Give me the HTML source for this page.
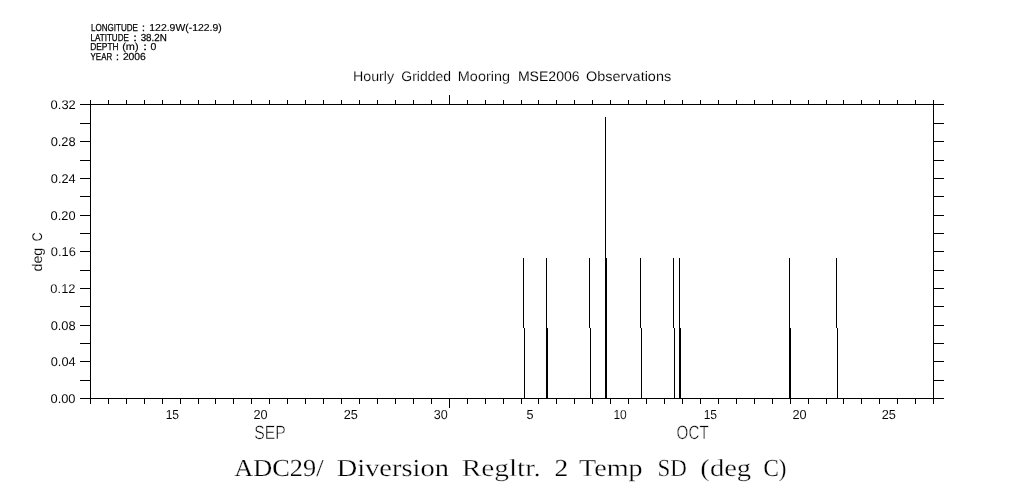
<!DOCTYPE html>
<html lang="en">
<head>
<meta charset="utf-8">
<title>ADC29/ Diversion Regltr. 2 Temp SD (deg C)</title>
<style>
html,body{margin:0;padding:0;background:#fff;}
body{width:1009px;height:504px;overflow:hidden;}
svg{display:block;}
svg text{fill:#000;white-space:pre;text-rendering:geometricPrecision;}
</style>
</head>
<body>
<svg width="1009" height="504" viewBox="0 0 1009 504">
<rect x="0" y="0" width="1009" height="504" fill="#fff"/>
<g fill="#000" shape-rendering="crispEdges">
<rect x="90" y="104" width="854" height="1"/>
<rect x="80" y="398" width="864" height="1"/>
<rect x="90" y="100" width="1" height="304"/>
<rect x="933" y="100" width="1" height="304"/>
<rect x="80" y="104" width="11" height="1"/>
<rect x="933" y="104" width="11" height="1"/>
<rect x="80" y="123" width="11" height="1"/>
<rect x="933" y="123" width="11" height="1"/>
<rect x="80" y="141" width="11" height="1"/>
<rect x="933" y="141" width="11" height="1"/>
<rect x="80" y="160" width="11" height="1"/>
<rect x="933" y="160" width="11" height="1"/>
<rect x="80" y="178" width="11" height="1"/>
<rect x="933" y="178" width="11" height="1"/>
<rect x="80" y="196" width="11" height="1"/>
<rect x="933" y="196" width="11" height="1"/>
<rect x="80" y="215" width="11" height="1"/>
<rect x="933" y="215" width="11" height="1"/>
<rect x="80" y="233" width="11" height="1"/>
<rect x="933" y="233" width="11" height="1"/>
<rect x="80" y="251" width="11" height="1"/>
<rect x="933" y="251" width="11" height="1"/>
<rect x="80" y="270" width="11" height="1"/>
<rect x="933" y="270" width="11" height="1"/>
<rect x="80" y="288" width="11" height="1"/>
<rect x="933" y="288" width="11" height="1"/>
<rect x="80" y="306" width="11" height="1"/>
<rect x="933" y="306" width="11" height="1"/>
<rect x="80" y="325" width="11" height="1"/>
<rect x="933" y="325" width="11" height="1"/>
<rect x="80" y="343" width="11" height="1"/>
<rect x="933" y="343" width="11" height="1"/>
<rect x="80" y="361" width="11" height="1"/>
<rect x="933" y="361" width="11" height="1"/>
<rect x="80" y="380" width="11" height="1"/>
<rect x="933" y="380" width="11" height="1"/>
<rect x="80" y="398" width="11" height="1"/>
<rect x="933" y="398" width="11" height="1"/>
<rect x="90" y="100" width="1" height="5"/>
<rect x="90" y="398" width="1" height="6"/>
<rect x="108" y="100" width="1" height="5"/>
<rect x="108" y="398" width="1" height="6"/>
<rect x="126" y="100" width="1" height="5"/>
<rect x="126" y="398" width="1" height="6"/>
<rect x="144" y="100" width="1" height="5"/>
<rect x="144" y="398" width="1" height="6"/>
<rect x="162" y="100" width="1" height="5"/>
<rect x="162" y="398" width="1" height="6"/>
<rect x="180" y="100" width="1" height="5"/>
<rect x="180" y="398" width="1" height="6"/>
<rect x="198" y="100" width="1" height="5"/>
<rect x="198" y="398" width="1" height="6"/>
<rect x="215" y="100" width="1" height="5"/>
<rect x="215" y="398" width="1" height="6"/>
<rect x="233" y="100" width="1" height="5"/>
<rect x="233" y="398" width="1" height="6"/>
<rect x="251" y="100" width="1" height="5"/>
<rect x="251" y="398" width="1" height="6"/>
<rect x="269" y="100" width="1" height="5"/>
<rect x="269" y="398" width="1" height="6"/>
<rect x="287" y="100" width="1" height="5"/>
<rect x="287" y="398" width="1" height="6"/>
<rect x="305" y="100" width="1" height="5"/>
<rect x="305" y="398" width="1" height="6"/>
<rect x="323" y="100" width="1" height="5"/>
<rect x="323" y="398" width="1" height="6"/>
<rect x="341" y="100" width="1" height="5"/>
<rect x="341" y="398" width="1" height="6"/>
<rect x="359" y="100" width="1" height="5"/>
<rect x="359" y="398" width="1" height="6"/>
<rect x="377" y="100" width="1" height="5"/>
<rect x="377" y="398" width="1" height="6"/>
<rect x="395" y="100" width="1" height="5"/>
<rect x="395" y="398" width="1" height="6"/>
<rect x="413" y="100" width="1" height="5"/>
<rect x="413" y="398" width="1" height="6"/>
<rect x="431" y="100" width="1" height="5"/>
<rect x="431" y="398" width="1" height="6"/>
<rect x="449" y="95" width="1" height="10"/>
<rect x="449" y="398" width="1" height="10"/>
<rect x="467" y="100" width="1" height="5"/>
<rect x="467" y="398" width="1" height="6"/>
<rect x="485" y="100" width="1" height="5"/>
<rect x="485" y="398" width="1" height="6"/>
<rect x="503" y="100" width="1" height="5"/>
<rect x="503" y="398" width="1" height="6"/>
<rect x="521" y="100" width="1" height="5"/>
<rect x="521" y="398" width="1" height="6"/>
<rect x="538" y="100" width="1" height="5"/>
<rect x="538" y="398" width="1" height="6"/>
<rect x="556" y="100" width="1" height="5"/>
<rect x="556" y="398" width="1" height="6"/>
<rect x="574" y="100" width="1" height="5"/>
<rect x="574" y="398" width="1" height="6"/>
<rect x="592" y="100" width="1" height="5"/>
<rect x="592" y="398" width="1" height="6"/>
<rect x="610" y="100" width="1" height="5"/>
<rect x="610" y="398" width="1" height="6"/>
<rect x="628" y="100" width="1" height="5"/>
<rect x="628" y="398" width="1" height="6"/>
<rect x="646" y="100" width="1" height="5"/>
<rect x="646" y="398" width="1" height="6"/>
<rect x="664" y="100" width="1" height="5"/>
<rect x="664" y="398" width="1" height="6"/>
<rect x="682" y="100" width="1" height="5"/>
<rect x="682" y="398" width="1" height="6"/>
<rect x="700" y="100" width="1" height="5"/>
<rect x="700" y="398" width="1" height="6"/>
<rect x="718" y="100" width="1" height="5"/>
<rect x="718" y="398" width="1" height="6"/>
<rect x="736" y="100" width="1" height="5"/>
<rect x="736" y="398" width="1" height="6"/>
<rect x="754" y="100" width="1" height="5"/>
<rect x="754" y="398" width="1" height="6"/>
<rect x="772" y="100" width="1" height="5"/>
<rect x="772" y="398" width="1" height="6"/>
<rect x="790" y="100" width="1" height="5"/>
<rect x="790" y="398" width="1" height="6"/>
<rect x="808" y="100" width="1" height="5"/>
<rect x="808" y="398" width="1" height="6"/>
<rect x="826" y="100" width="1" height="5"/>
<rect x="826" y="398" width="1" height="6"/>
<rect x="843" y="100" width="1" height="5"/>
<rect x="843" y="398" width="1" height="6"/>
<rect x="861" y="100" width="1" height="5"/>
<rect x="861" y="398" width="1" height="6"/>
<rect x="879" y="100" width="1" height="5"/>
<rect x="879" y="398" width="1" height="6"/>
<rect x="897" y="100" width="1" height="5"/>
<rect x="897" y="398" width="1" height="6"/>
<rect x="915" y="100" width="1" height="5"/>
<rect x="915" y="398" width="1" height="6"/>
<rect x="933" y="100" width="1" height="5"/>
<rect x="933" y="398" width="1" height="6"/>
<rect x="523" y="258" width="1" height="70"/>
<rect x="524" y="328" width="1" height="71"/>
<rect x="546" y="258" width="1" height="70"/>
<rect x="546" y="328" width="1" height="71"/>
<rect x="547" y="328" width="1" height="71"/>
<rect x="589" y="258" width="1" height="70"/>
<rect x="590" y="328" width="1" height="71"/>
<rect x="640" y="258" width="1" height="70"/>
<rect x="641" y="328" width="1" height="71"/>
<rect x="673" y="258" width="1" height="70"/>
<rect x="674" y="328" width="1" height="71"/>
<rect x="679" y="258" width="1" height="70"/>
<rect x="679" y="328" width="1" height="71"/>
<rect x="680" y="328" width="1" height="71"/>
<rect x="789" y="258" width="1" height="70"/>
<rect x="789" y="328" width="1" height="71"/>
<rect x="790" y="328" width="1" height="71"/>
<rect x="836" y="258" width="1" height="70"/>
<rect x="837" y="328" width="1" height="71"/>
<rect x="605" y="117" width="1" height="282"/>
<rect x="606" y="258" width="1" height="141"/>
</g>
<g>
<text transform="translate(90.9 31) scale(0.7978 1)" font-size="10.1" font-family="'Liberation Sans', sans-serif" stroke="#000" stroke-width="0.25">LONGITUDE</text>
<text transform="translate(142.04 31) scale(1.0399 1)" font-size="10.1" font-family="'Liberation Sans', sans-serif" stroke="#000" stroke-width="0.35">:</text>
<text transform="translate(149.33 31) scale(1.0323 1)" font-size="10.1" font-family="'Liberation Sans', sans-serif" stroke="#000" stroke-width="0.15">122.9W(-122.9)</text>
<text transform="translate(90.46 41) scale(0.7990 1)" font-size="10.1" font-family="'Liberation Sans', sans-serif" stroke="#000" stroke-width="0.25">LATITUDE</text>
<text transform="translate(133.18 41) scale(1.3000 1)" font-size="10.1" font-family="'Liberation Sans', sans-serif" stroke="#000" stroke-width="0.35">:</text>
<text transform="translate(140.67 41) scale(0.9711 1)" font-size="10.1" font-family="'Liberation Sans', sans-serif" stroke="#000" stroke-width="0.25">38.2N</text>
<text transform="translate(90.25 50) scale(0.8288 1)" font-size="10.1" font-family="'Liberation Sans', sans-serif" stroke="#000" stroke-width="0.25">DEPTH</text>
<text transform="translate(122.22 50) scale(1.0801 1)" font-size="10.1" font-family="'Liberation Sans', sans-serif" stroke="#000" stroke-width="0.15">(m)</text>
<text transform="translate(143.18 50) scale(1.3000 1)" font-size="10.1" font-family="'Liberation Sans', sans-serif" stroke="#000" stroke-width="0.35">:</text>
<text transform="translate(150.59 50) scale(1.0356 1)" font-size="10.1" font-family="'Liberation Sans', sans-serif" stroke="#000" stroke-width="0.15">0</text>
<text transform="translate(90.59 60) scale(0.7832 1)" font-size="10.1" font-family="'Liberation Sans', sans-serif" stroke="#000" stroke-width="0.25">YEAR</text>
<text transform="translate(116.04 60) scale(1.0399 1)" font-size="10.1" font-family="'Liberation Sans', sans-serif" stroke="#000" stroke-width="0.35">:</text>
<text transform="translate(122.88 60) scale(1.0225 1)" font-size="10.1" font-family="'Liberation Sans', sans-serif" stroke="#000" stroke-width="0.19">2006</text>
<text transform="translate(352.91 81) scale(1.0331 1)" font-size="13.8" font-family="'Liberation Sans', sans-serif" stroke="#fff" stroke-width="0.17">Hourly</text>
<text transform="translate(401.35 81) scale(1.0103 1)" font-size="13.8" font-family="'Liberation Sans', sans-serif" stroke="#fff" stroke-width="0.13">Gridded</text>
<text transform="translate(457.85 81) scale(1.0453 1)" font-size="13.8" font-family="'Liberation Sans', sans-serif" stroke="#fff" stroke-width="0.17">Mooring</text>
<text transform="translate(517.88 81) scale(1.0193 1)" font-size="13.8" font-family="'Liberation Sans', sans-serif" stroke="#fff" stroke-width="0.09">MSE2006</text>
<text transform="translate(585.99 81) scale(1.0480 1)" font-size="13.8" font-family="'Liberation Sans', sans-serif" stroke="#fff" stroke-width="0.11">Observations</text>
<text transform="translate(50.61 109) scale(1.0177 1)" font-size="12.7" font-family="'Liberation Sans', sans-serif" stroke="#fff" stroke-width="0.04">0.32</text>
<text transform="translate(50.64 146) scale(1.0139 1)" font-size="12.7" font-family="'Liberation Sans', sans-serif" stroke="#fff" stroke-width="0.03">0.28</text>
<text transform="translate(50.85 183) scale(1.0063 1)" font-size="12.7" font-family="'Liberation Sans', sans-serif" stroke="#fff" stroke-width="0.02">0.24</text>
<text transform="translate(50.57 220) scale(1.0116 1)" font-size="12.7" font-family="'Liberation Sans', sans-serif" stroke="#fff" stroke-width="0.03">0.20</text>
<text transform="translate(50.74 256) scale(1.0142 1)" font-size="12.7" font-family="'Liberation Sans', sans-serif" stroke="#fff" stroke-width="0.06">0.16</text>
<text transform="translate(50.36 293) scale(1.0177 1)" font-size="12.7" font-family="'Liberation Sans', sans-serif" stroke="#fff" stroke-width="0.08">0.12</text>
<text transform="translate(50.63 330) scale(1.0139 1)" font-size="12.7" font-family="'Liberation Sans', sans-serif" stroke="#fff" stroke-width="0.03">0.08</text>
<text transform="translate(50.74 366) scale(1.0063 1)" font-size="12.7" font-family="'Liberation Sans', sans-serif" stroke="#fff" stroke-width="0.03">0.04</text>
<text transform="translate(50.53 403) scale(1.0116 1)" font-size="12.7" font-family="'Liberation Sans', sans-serif" stroke="#fff" stroke-width="0.03">0.00</text>
<text transform="translate(165.63 419) scale(0.9285 1)" font-size="13" font-family="'Liberation Sans', sans-serif" stroke="#fff" stroke-width="0.05">15</text>
<text transform="translate(253.53 419) scale(0.9776 1)" font-size="13" font-family="'Liberation Sans', sans-serif" stroke="#fff" stroke-width="0.06">20</text>
<text transform="translate(343.77 419) scale(0.9804 1)" font-size="13" font-family="'Liberation Sans', sans-serif" stroke="#fff" stroke-width="0.04">25</text>
<text transform="translate(433.8 419) scale(0.9660 1)" font-size="13" font-family="'Liberation Sans', sans-serif" stroke="#fff" stroke-width="0.07">30</text>
<text transform="translate(526.58 419) scale(0.9735 1)" font-size="13" font-family="'Liberation Sans', sans-serif" stroke="#fff" stroke-width="0.03">5</text>
<text transform="translate(613.4 419) scale(0.9258 1)" font-size="13" font-family="'Liberation Sans', sans-serif" stroke="#fff" stroke-width="0.1">10</text>
<text transform="translate(703.63 419) scale(0.9285 1)" font-size="13" font-family="'Liberation Sans', sans-serif" stroke="#fff" stroke-width="0.05">15</text>
<text transform="translate(792.53 419) scale(0.9776 1)" font-size="13" font-family="'Liberation Sans', sans-serif" stroke="#fff" stroke-width="0.06">20</text>
<text transform="translate(881.77 419) scale(0.9804 1)" font-size="13" font-family="'Liberation Sans', sans-serif" stroke="#fff" stroke-width="0.04">25</text>
<text transform="translate(254.32 439) scale(0.8169 1)" font-size="19.3" font-family="'Liberation Sans', sans-serif" stroke="#fff" stroke-width="0.49">SEP</text>
<text transform="translate(676.61 439) scale(0.7872 1)" font-size="19.3" font-family="'Liberation Sans', sans-serif" stroke="#fff" stroke-width="0.52">OCT</text>
<text transform="translate(42 271.38) rotate(-90) scale(1.0060 1)" font-size="14" font-family="'Liberation Sans', sans-serif" stroke="#fff" stroke-width="0.11">deg</text>
<text transform="translate(42 241.58) rotate(-90) scale(0.9023 1)" font-size="14" font-family="'Liberation Sans', sans-serif" stroke="#fff" stroke-width="0.08">C</text>
<text transform="translate(234.24 476) scale(1.0793 1)" font-size="24.4" font-family="'Liberation Serif', serif" stroke="#fff" stroke-width="0.19">ADC29/</text>
<text transform="translate(336.69 476) scale(1.1665 1)" font-size="24.4" font-family="'Liberation Serif', serif" stroke="#fff" stroke-width="0.24">Diversion</text>
<text transform="translate(461.65 476) scale(1.2041 1)" font-size="24.4" font-family="'Liberation Serif', serif" stroke="#fff" stroke-width="0.34">Regltr.</text>
<text transform="translate(554.6 476) scale(1.1246 1)" font-size="24.4" font-family="'Liberation Serif', serif" stroke="#fff" stroke-width="0.15">2</text>
<text transform="translate(578.99 476) scale(1.1527 1)" font-size="24.4" font-family="'Liberation Serif', serif" stroke="#fff" stroke-width="0.26">Temp</text>
<text transform="translate(657.43 476) scale(0.9447 1)" font-size="24.4" font-family="'Liberation Serif', serif" stroke="#fff" stroke-width="0.32">SD</text>
<text transform="translate(700.36 476) scale(1.1717 1)" font-size="24.4" font-family="'Liberation Serif', serif" stroke="#fff" stroke-width="0.29">(deg</text>
<text transform="translate(763.4 476) scale(0.9406 1)" font-size="24.4" font-family="'Liberation Serif', serif" stroke="#fff" stroke-width="0.19">C)</text>
</g>
</svg>
</body>
</html>
